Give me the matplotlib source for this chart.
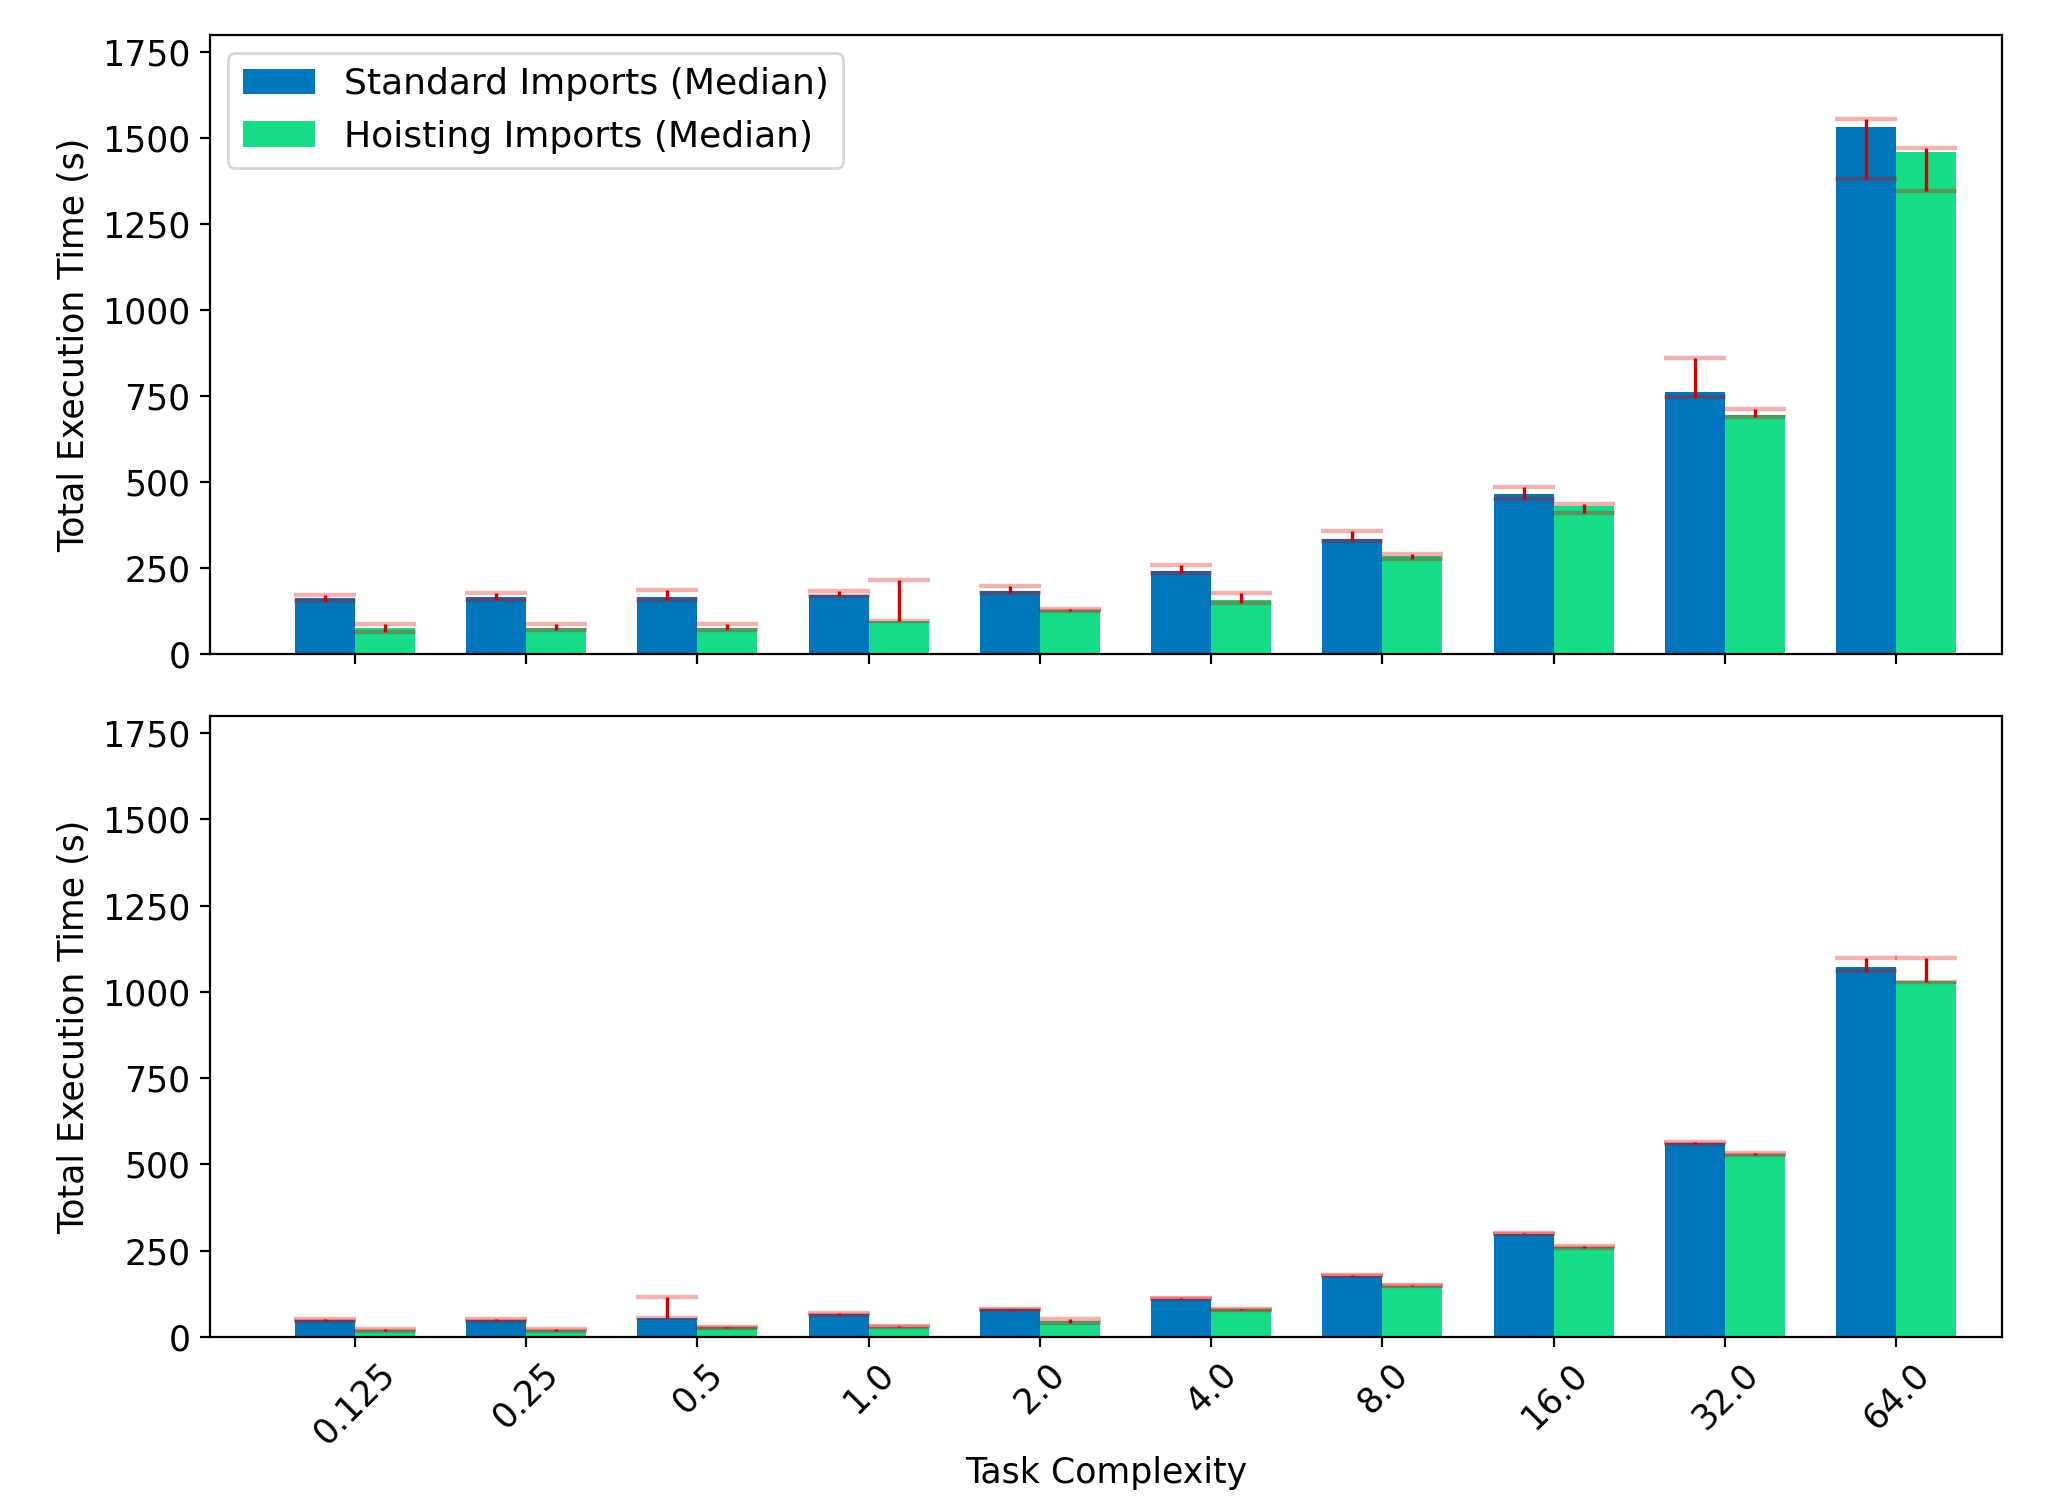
import matplotlib.pyplot as plt
import numpy as np

complexity = ["0.125", "0.25", "0.5", "1.0", "2.0", "4.0", "8.0", "16.0", "32.0", "64.0"]

# top panel: median, min, max
top_std_med = [163, 166, 166, 173, 184, 241, 333, 466, 761, 1531]
top_std_lo = [155, 158, 158, 170, 178, 236, 329, 450, 746, 1382]
top_std_hi = [171, 178, 185, 183, 198, 260, 358, 486, 861, 1555]
top_hoist_med = [76, 76, 76, 97, 129, 158, 285, 430, 696, 1460]
top_hoist_lo = [64, 71, 71, 95, 124, 149, 275, 411, 688, 1345]
top_hoist_hi = [88, 87, 86, 214, 132, 178, 290, 435, 712, 1470]

# bottom panel: median, min, max
bot_std_med = [49, 49, 56, 66, 80, 111, 178, 299, 562, 1072]
bot_std_lo = [47, 47, 54, 64, 78, 109, 176, 297, 560, 1062]
bot_std_hi = [51, 51, 115, 68, 82, 113, 180, 301, 564, 1097]
bot_hoist_med = [20, 20, 28, 30, 46, 80, 149, 261, 530, 1033]
bot_hoist_lo = [18, 18, 26, 28, 40, 78, 147, 259, 528, 1028]
bot_hoist_hi = [22, 22, 30, 32, 51, 82, 151, 263, 532, 1097]

COLOR_STD = "#0077bb"
COLOR_HOIST = "#17dd89"
WIDTH = 0.35

plt.rcParams["font.size"] = 12.5

fig = plt.figure(figsize=(10.3, 7.5), dpi=200)
ax1 = fig.add_axes([0.102, 0.564, 0.870, 0.4127])
ax2 = fig.add_axes([0.102, 0.1087, 0.870, 0.414], sharex=ax1)

x = np.arange(len(complexity))


def draw(ax, std, std_lo, std_hi, hoist, hoist_lo, hoist_hi, legend):
    ax.bar(x - WIDTH / 2, std, WIDTH, color=COLOR_STD, label="Standard Imports (Median)")
    ax.bar(x + WIDTH / 2, hoist, WIDTH, color=COLOR_HOIST, label="Hoisting Imports (Median)")
    for pos, med, lo, hi in ((x - WIDTH / 2, std, std_lo, std_hi), (x + WIDTH / 2, hoist, hoist_lo, hoist_hi)):
        med = np.array(med)
        yerr = [med - np.array(lo), np.array(hi) - med]
        _, caps, _ = ax.errorbar(pos, med, yerr=yerr, fmt="none", ecolor="#d10000",
                                 elinewidth=1.2, capsize=11, capthick=1.6)
        for c in caps:
            c.set_alpha(0.3)
    ax.set_ylim(0, 1800)
    ax.set_yticks([0, 250, 500, 750, 1000, 1250, 1500, 1750])
    ax.set_ylabel("Total Execution Time (s)")
    if legend:
        ax.legend(loc="upper left", fontsize=13)


draw(ax1, top_std_med, top_std_lo, top_std_hi, top_hoist_med, top_hoist_lo, top_hoist_hi, True)
draw(ax2, bot_std_med, bot_std_lo, bot_std_hi, bot_hoist_med, bot_hoist_lo, bot_hoist_hi, False)

ax1.set_xlim(-0.845, 9.62)
ax1.tick_params(axis="x", labelbottom=False)
ax2.set_xticks(x)
ax2.set_xticklabels(complexity, rotation=45)
ax2.set_xlabel("Task Complexity", labelpad=2)

fig.savefig("out.png", dpi=200)
